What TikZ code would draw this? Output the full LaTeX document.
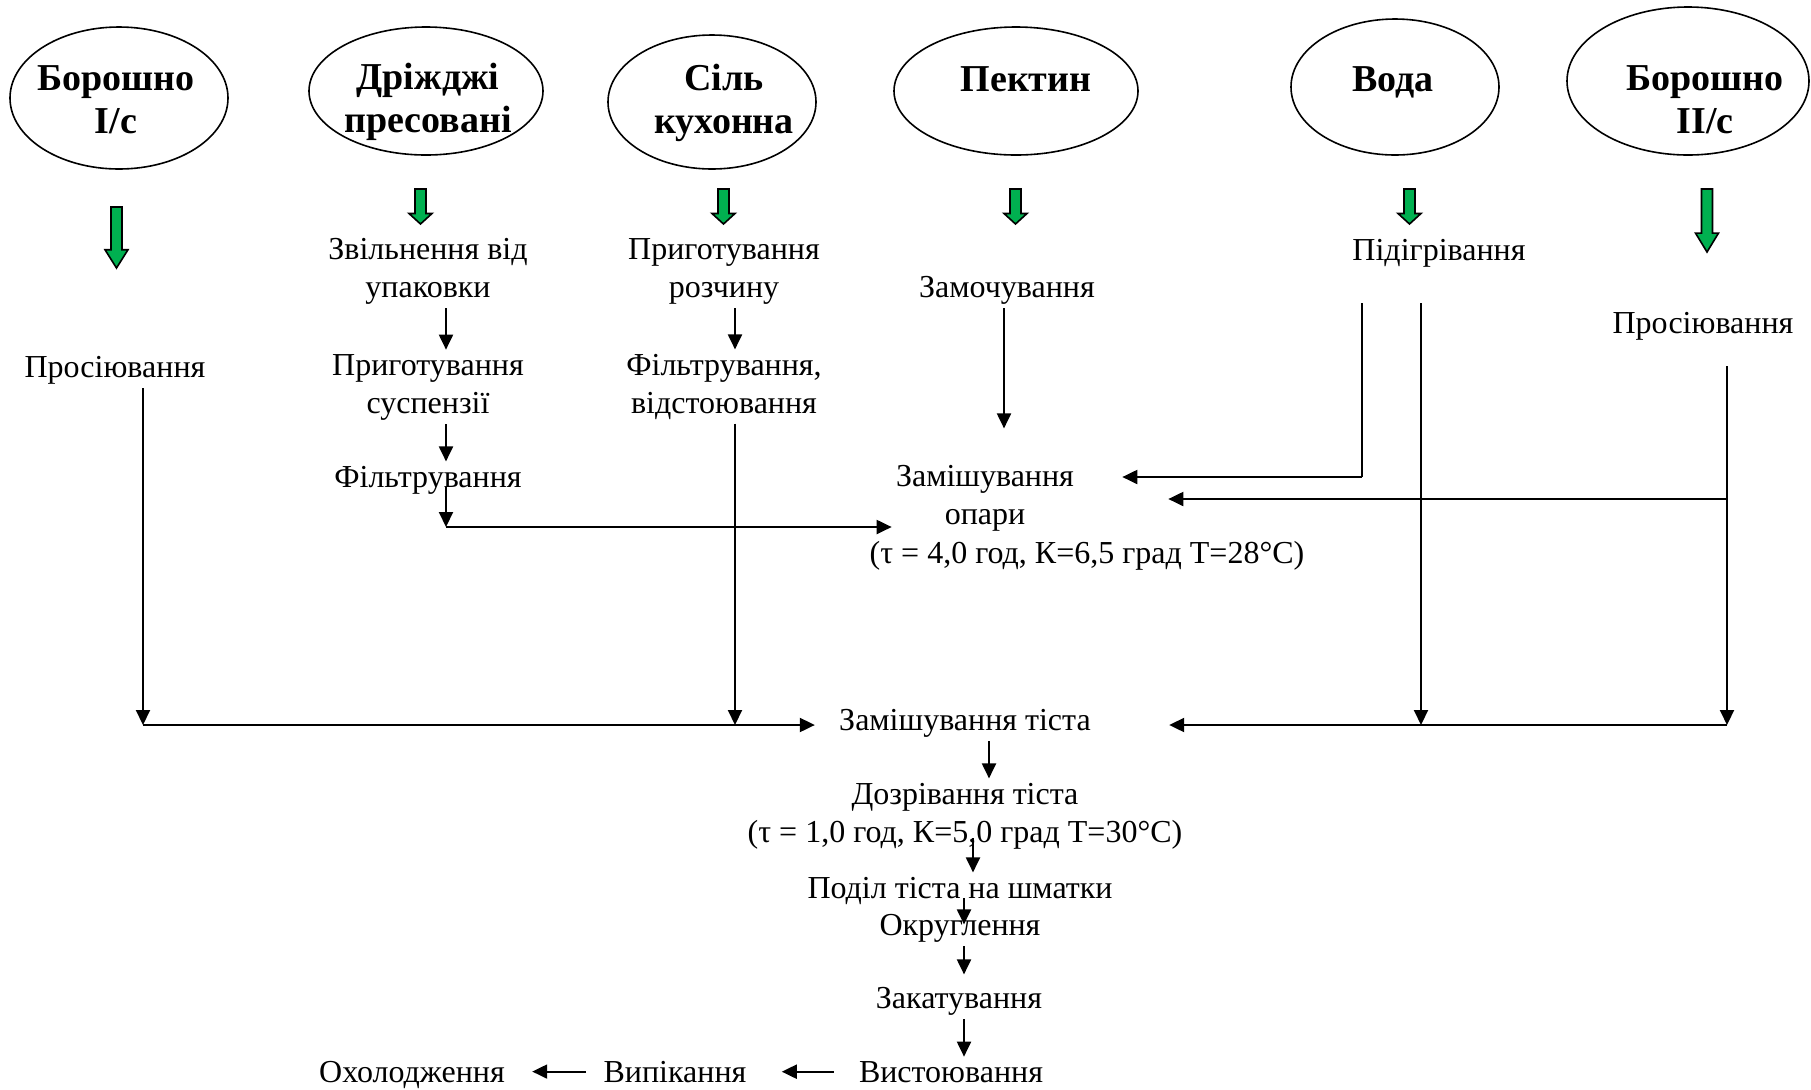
\documentclass[tikz,border=0pt]{standalone}
\usepackage{fontspec}
\setmainfont{Liberation Serif}
\usetikzlibrary{arrows.meta, calc}
\definecolor{leafgreen}{RGB}{0,176,80}

\begin{document}
\begin{tikzpicture}[
    x=0.5pt, y=-0.5pt,
    src/.style={draw, line width=0.8pt},
    srctxt/.style={font=\bfseries\fontsize{19}{21.5}\selectfont, align=center,
                   inner sep=0pt, anchor=base},
    proc/.style={font=\fontsize{16}{19}\selectfont, align=center, inner sep=2pt, anchor=base},
    arr/.style={-{Triangle[length=7.5pt, width=7pt]}, line width=1pt},
    ln/.style={line width=1pt},
    garrow/.style={draw, fill=leafgreen, line width=0.8pt}
]
\useasboundingbox (0,0) rectangle (1811,1089);

% Raw materials
\draw[src] (119,98) ellipse [x radius=54.5pt, y radius=35.5pt];
\draw[src] (426,91) ellipse [x radius=58.5pt, y radius=32pt];
\draw[src] (712,102) ellipse [x radius=52pt, y radius=33.5pt];
\draw[src] (1016,91) ellipse [x radius=61pt, y radius=32pt];
\draw[src] (1395,87) ellipse [x radius=52pt, y radius=34pt];
\draw[src] (1688,81) ellipse [x radius=60.5pt, y radius=37pt];
\node[srctxt] (flourA) at (116,133) {Борошно\\I/с};
\node[srctxt] (yeast) at (428,132) {Дріжджі\\пресовані};
\node[srctxt] (salt) at (724,133) {Сіль\\кухонна};
\node[srctxt] (pectin) at (1026,91) {Пектин};
\node[srctxt] (water) at (1393,91) {Вода};
\node[srctxt] (flourB) at (1705,133) {Борошно\\II/с};

% Green block arrows under the raw materials
\foreach \gx/\gt/\gb in {116.5/207/268, 420.5/189/224, 723.5/189/224,
                         1015.5/189/224, 1409.5/189/224, 1707/189/252} {
  \pgfmathsetmacro\gh{\gb-0.3*(\gb-\gt)}
  \draw[garrow] (\gx-5.5,\gt) -- (\gx+5.5,\gt) -- (\gx+5.5,\gh) -- (\gx+11.5,\gh)
    -- (\gx,\gb) -- (\gx-11.5,\gh) -- (\gx-5.5,\gh) -- cycle;
}

% Preparation steps
\node[proc] (siftA) at (115,377) {Просіювання};
\node[proc] (unpack) at (428,297) {Звільнення від\\упаковки};
\node[proc] (susp) at (428,413) {Приготування\\суспензії};
\node[proc] (filtA) at (428,487) {Фільтрування};
\node[proc] (brine) at (724,297) {Приготування\\розчину};
\node[proc] (filtB) at (724,413) {Фільтрування,\\відстоювання};
\node[proc] (soak) at (1007,297) {Замочування};
\node[proc] (heat) at (1439,260) {Підігрівання};
\node[proc] (siftB) at (1703,333) {Просіювання};

% Main line
\node[proc] (sponge) at (985,524) {Замішування\\опари};
\node[proc] (spongecond) at (1087,563) {(τ = 4,0 год, К=6,5 град Т=28°С)};
\node[proc] (dough) at (965,730) {Замішування тіста};
\node[proc] (ripen) at (965,842) {Дозрівання тіста\\(τ = 1,0 год, К=5,0 град Т=30°С)};
\node[proc] (divide) at (960,898) {Поділ тіста на шматки};
\node[proc] (round) at (960,935) {Округлення};
\node[proc] (roll) at (959,1008) {Закатування};
\node[proc] (proof) at (951,1082) {Вистоювання};
\node[proc] (bake) at (675,1082) {Випікання};
\node[proc] (cool) at (412,1082) {Охолодження};

% Junction points of the feed lines
\coordinate (jA) at (446,527);
\coordinate (jL) at (143,725);
\coordinate (jS) at (735,725);
\coordinate (jP) at (1004,0);
\coordinate (jW) at (1362,477);
\coordinate (jR) at (1421,725);
\coordinate (jB) at (1727,725);
\coordinate (jB1) at (1727,499);
\coordinate (cM1) at (989,0);
\coordinate (cM2) at (973,0);
\coordinate (cM3) at (964,0);

% Yeast branch
\draw[arr] (unpack.south -| jA) -- (susp.north -| jA);
\draw[arr] (susp.south -| jA) -- (filtA.north -| jA);
\draw[arr] (filtA.base -| jA) -- (jA);
\draw[arr] (jA) -- (jA -| sponge.west);
% Salt branch
\draw[arr] (brine.south -| jS) -- (filtB.north -| jS);
\draw[arr] (filtB.south -| jS) -- (jS);
% Flour I/c
\draw[arr] (siftA.south -| jL) -- (jL);
\draw[arr, shorten >=10pt] (jL) -- (jL -| dough.west);
% Pectin
\draw[arr, shorten >=16pt] (soak.south -| jP) -- (sponge.north -| jP);
% Water
\draw[ln, shorten <=16pt] (heat.south -| jW) -- (jW);
\draw[arr, shorten >=22pt] (jW) -- (jW -| sponge.east);
\draw[arr, shorten <=16pt] (heat.south -| jR) -- (jR);
% Flour II/c
\draw[arr, shorten <=11pt] (siftB.south -| jB) -- (jB);
\draw[arr, shorten >=45pt] (jB1) -- (jB1 -| sponge.east);
\draw[arr, shorten >=37pt] (jB) -- (jB -| dough.east);

% Dough processing
\draw[arr] (dough.south -| cM1) -- (ripen.north -| cM1);
\draw[arr] ($(ripen.south -| cM2)+(0,-15)$) -- (divide.north -| cM2);
\draw[arr] (divide.base -| cM3) -- ($(round.north -| cM3)+(0,15)$);
\draw[arr, shorten >=4pt] (round.south -| cM3) -- (roll.north -| cM3);
\draw[arr] (roll.south -| cM3) -- (proof.north -| cM3);
\draw[arr, shorten <=10.5pt, shorten >=15.5pt] (proof.west) -- (proof.west -| bake.east);
\draw[arr, shorten <=6.5pt, shorten >=11.5pt] (bake.west) -- (bake.west -| cool.east);
\end{tikzpicture}
\end{document}
